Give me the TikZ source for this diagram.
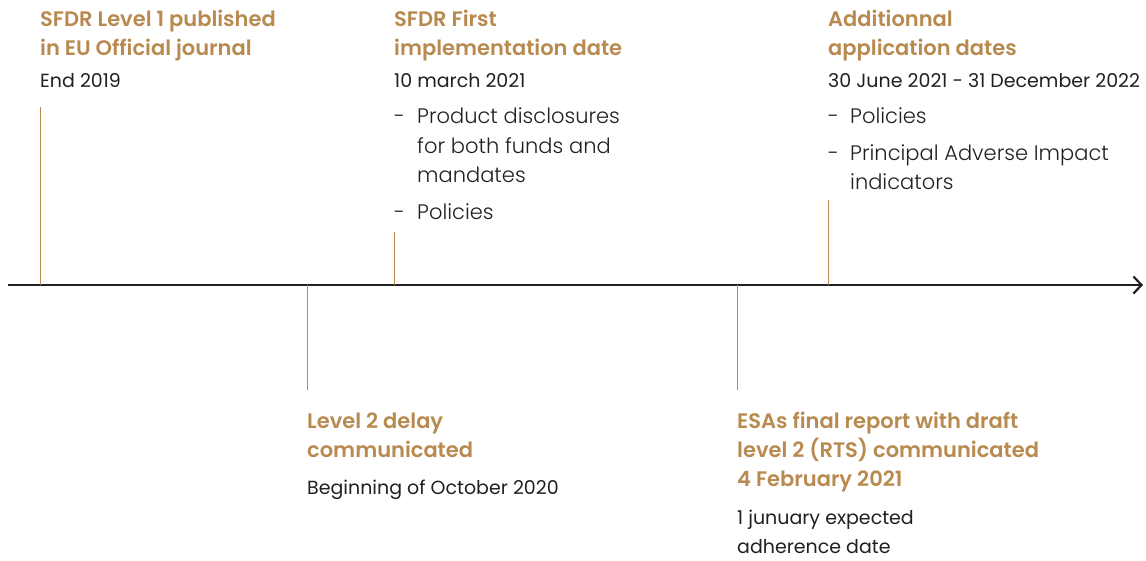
\documentclass[tikz,border=0pt]{standalone}
\usepackage{fontspec}
\setmainfont{Poppins}
\newfontfamily\headfont{Poppins SemiBold}
\newfontfamily\lightfont{Poppins Light}
\usetikzlibrary{arrows.meta}
\definecolor{gold}{RGB}{184,138,80}
\definecolor{ink}{RGB}{35,31,32}
\tikzset{
  head/.style={anchor=base west, inner sep=0pt, text=gold, font=\headfont\fontsize{21}{29}\selectfont},
  body/.style={anchor=base west, inner sep=0pt, text=ink, font=\fontsize{19}{29}\selectfont},
  item/.style={anchor=base west, inner sep=0pt, text=ink, font=\lightfont\fontsize{21}{29}\selectfont},
  tick/.style={draw=gold, line width=1pt},
  axis/.style={draw=ink, line width=2.2pt, -{Straight Barb[length=8pt,width=17pt,line width=2.2pt]}}
}
\begin{document}
\begin{tikzpicture}[x=1pt,y=-1pt]
\useasboundingbox (0,0) rectangle (1146,560);
% axis
\coordinate (axL) at (8,285);
\coordinate (axR) at (1143,285);
\draw[axis] (axL) -- (axR);
% ticks
\coordinate (t1a) at (40,107);   \coordinate (t1b) at (40,285);
\coordinate (t2a) at (394,232);  \coordinate (t2b) at (394,285);
\coordinate (t3a) at (828,200);  \coordinate (t3b) at (828,285);
\coordinate (b1a) at (307,285);  \coordinate (b1b) at (307,390);
\coordinate (b2a) at (737,285);  \coordinate (b2b) at (737,390);
\draw[tick] (t1a) -- (t1b);
\draw[tick] (t2a) -- (t2b);
\draw[tick] (t3a) -- (t3b);
\draw[tick] (b1a) -- (b1b);
\draw[tick] (b2a) -- (b2b);
% column 1
\node[head] (h1a) at (40,26) {SFDR Level 1 published};
\node[head] (h1b) at (40,55) {in EU Official journal};
\node[body] (d1) at (40,87) {End 2019};
% column 2
\node[head] (h2a) at (394,26) {SFDR First};
\node[head] (h2b) at (394,55) {implementation date};
\node[body] (d2) at (394,87) {10 march 2021};
\node[item] (i2a0) at (394,123) {-};
\node[item] (i2a) at (417,123) {Product disclosures};
\node[item] (i2b) at (417,153) {for both funds and};
\node[item] (i2c) at (417,182) {mandates};
\node[item] (i2d0) at (394,219) {-};
\node[item] (i2d) at (417,219) {Policies};
% column 3
\node[head] (h3a) at (828,26) {Additionnal};
\node[head] (h3b) at (828,55) {application dates};
\node[body] (d3) at (828,87) {30 June 2021 - 31 December 2022};
\node[item] (i3a0) at (828,123) {-};
\node[item] (i3a) at (850,123) {Policies};
\node[item] (i3b0) at (828,160) {-};
\node[item] (i3b) at (850,160) {Principal Adverse Impact};
\node[item] (i3c) at (850,189) {indicators};
% bottom column 1
\node[head] (h4a) at (307,428) {Level 2 delay};
\node[head] (h4b) at (307,457) {communicated};
\node[body] (d4) at (307,494) {Beginning of October 2020};
% bottom column 2
\node[head] (h5a) at (737,428) {ESAs final report with draft};
\node[head] (h5b) at (737,457) {level 2 (RTS) communicated};
\node[head] (h5c) at (737,486) {4 February 2021};
\node[body] (d5a) at (737,524) {1 junuary expected};
\node[body] (d5b) at (737,553) {adherence date};
\end{tikzpicture}
\end{document}
